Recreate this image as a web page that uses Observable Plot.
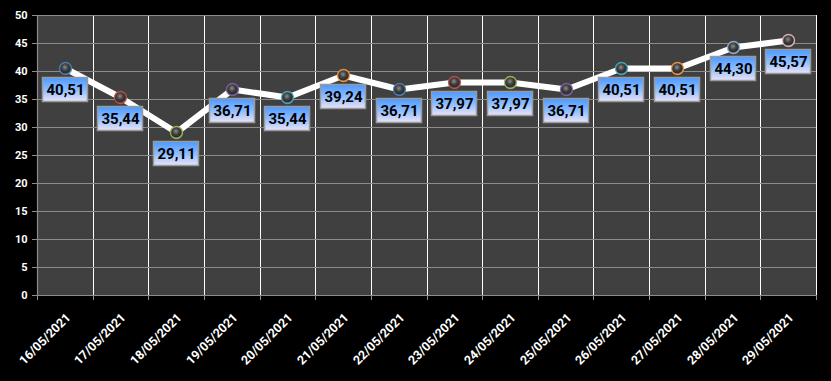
<!DOCTYPE html>
<html>
<head>
<meta charset="utf-8">
<script src="https://cdn.jsdelivr.net/npm/d3@7"></script>
<script src="https://cdn.jsdelivr.net/npm/@observablehq/plot@0.6"></script>
<style>
  html, body { margin: 0; padding: 0; background: #000; }
  #chart svg { display: block; }
</style>
</head>
<body>
<div id="chart"></div>
<script>
const dates = ["16/05/2021","17/05/2021","18/05/2021","19/05/2021","20/05/2021","21/05/2021","22/05/2021","23/05/2021","24/05/2021","25/05/2021","26/05/2021","27/05/2021","28/05/2021","29/05/2021"];
const values = [40.51, 35.44, 29.11, 36.71, 35.44, 39.24, 36.71, 37.97, 37.97, 36.71, 40.51, 40.51, 44.30, 45.57];
const markerColors = ["#4f81bd","#c0504d","#9bbb59","#8064a2","#4bacc6","#f79646","#4f81bd","#c0504d","#9bbb59","#8064a2","#4bacc6","#f79646","#95b3d7","#e6b9b8"];
const yTicks = [0,5,10,15,20,25,30,35,40,45,50];

const bounds = d3.range(dates.length + 1).map(i => i - 0.5);
const fmt = v => v.toFixed(2).replace(".", ",");
const FONT = "Roboto, 'Open Sans', sans-serif";

function defsMark() {
  const ns = "http://www.w3.org/2000/svg";
  const defs = document.createElementNS(ns, "defs");
  markerColors.forEach((c, i) => {
    const g = document.createElementNS(ns, "radialGradient");
    g.setAttribute("id", "sph" + i);
    g.setAttribute("cx", "45%"); g.setAttribute("cy", "40%"); g.setAttribute("r", "62%");
    [["0%", "#8d8d8d"], ["45%", "#3e3e3e"], ["75%", "#2c2c2c"], ["100%", c]].forEach(([o, col]) => {
      const s = document.createElementNS(ns, "stop");
      s.setAttribute("offset", o); s.setAttribute("stop-color", col);
      g.appendChild(s);
    });
    defs.appendChild(g);
  });
  const lg = document.createElementNS(ns, "linearGradient");
  lg.setAttribute("id", "lblgrad");
  lg.setAttribute("x1", "0"); lg.setAttribute("y1", "0"); lg.setAttribute("x2", "0"); lg.setAttribute("y2", "1");
  [["0%", "#4b98ff"], ["55%", "#93c0ff"], ["100%", "#ece3f6"]].forEach(([o, col]) => {
    const s = document.createElementNS(ns, "stop");
    s.setAttribute("offset", o); s.setAttribute("stop-color", col);
    lg.appendChild(s);
  });
  defs.appendChild(lg);
  return defs;
}

const chart = Plot.plot({
  width: 831,
  height: 381,
  marginLeft: 37,
  marginRight: 15,
  marginTop: 15,
  marginBottom: 86,
  style: { background: "#000", fontFamily: FONT, overflow: "visible" },
  x: { domain: [-0.5, dates.length - 0.5], axis: null, round: true },
  y: { domain: [0, 50], axis: null, round: true },
  color: { type: "identity" },
  marks: [
    defsMark,
    Plot.frame({ fill: "#404040", stroke: null }),
    Plot.ruleX(bounds.slice(1), { stroke: "#ffffff", strokeWidth: 1 }),
    Plot.ruleY(yTicks, { stroke: "#8c8c8c", strokeWidth: 1 }),
    Plot.ruleX([bounds[0]], { stroke: "#8c8c8c", strokeWidth: 1.2 }),
    // x tick marks at category boundaries
    Plot.ruleX(bounds, { y1: 0, y2: 0, insetBottom: -5, stroke: "#8c8c8c" }),
    // y tick marks
    Plot.ruleY(yTicks, { x1: -0.5, x2: -0.5, insetLeft: -5, stroke: "#8c8c8c" }),
    // y tick labels
    Plot.text(yTicks, { x: -0.5, y: d => d, text: d => String(d), textAnchor: "end", dx: -10, fill: "#ffffff", fontWeight: "bold", fontSize: 11 }),
    // x tick labels
    Plot.text(dates, { x: (d, i) => i, y: () => 0, text: d => d, rotate: -45, textAnchor: "end", dx: 3, dy: 20, fill: "#ffffff", fontWeight: "bold", fontSize: 12.5 }),
    // series line
    Plot.line(values, { x: (d, i) => i, y: d => d, stroke: "#ffffff", strokeWidth: 6, strokeLinejoin: "round" }),
    // markers
    Plot.dot(values, { x: (d, i) => i, y: d => d, r: 6, fill: (d, i) => `url(#sph${i})`, stroke: (d, i) => markerColors[i], strokeWidth: 1.4, strokeOpacity: 0.9 }),
    // label boxes
    Plot.rect(values, { x1: (d, i) => i, x2: (d, i) => i, y1: d => d, y2: d => d, insetLeft: -22.5, insetRight: -22.5, insetTop: 9.5, insetBottom: -33.5, fill: "url(#lblgrad)", stroke: "#9a9a9a", strokeWidth: 1.5 }),
    Plot.text(values, { x: (d, i) => i, y: d => d, text: d => fmt(d), dy: 22, fill: "#000000", fontWeight: "bold", fontSize: 15 })
  ]
});
document.getElementById("chart").appendChild(chart);
</script>
</body>
</html>
